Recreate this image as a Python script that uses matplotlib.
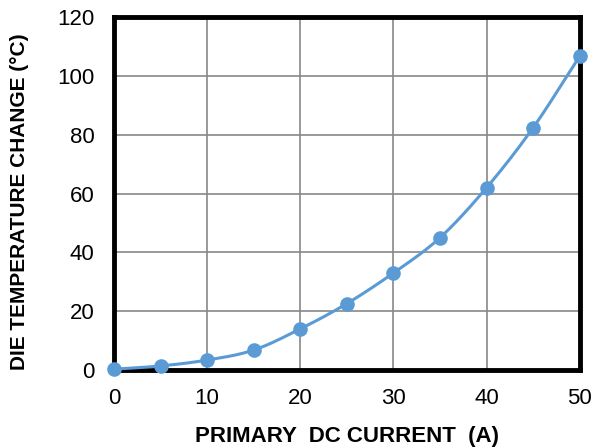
import numpy as np
import matplotlib
matplotlib.use("Agg")
import matplotlib.pyplot as plt

current = [0, 5, 10, 15, 20, 25, 30, 35, 40, 45, 50]
temp_change = [0.3, 1.4, 3.4, 6.8, 14.0, 22.6, 33.0, 45.0, 62.0, 82.4, 106.7]
x_ticks = [0, 10, 20, 30, 40, 50]
y_ticks = [0, 20, 40, 60, 80, 100, 120]

plt.rcParams['font.family'] = ['Liberation Sans', 'DejaVu Sans']

def smooth(xs, ys, n=20):
    xs = np.asarray(xs, float); ys = np.asarray(ys, float)
    px = np.concatenate([[2*xs[0]-xs[1]], xs, [2*xs[-1]-xs[-2]]])
    py = np.concatenate([[2*ys[0]-ys[1]], ys, [2*ys[-1]-ys[-2]]])
    ox, oy = [], []
    for i in range(1, len(px)-2):
        t = np.linspace(0, 1, n, endpoint=False)
        for arr, out in ((px, ox), (py, oy)):
            p0, p1, p2, p3 = arr[i-1], arr[i], arr[i+1], arr[i+2]
            out.extend(0.5*((2*p1) + (-p0+p2)*t + (2*p0-5*p1+4*p2-p3)*t**2 + (-p0+3*p1-3*p2+p3)*t**3))
    ox.append(xs[-1]); oy.append(ys[-1])
    return np.array(ox), np.array(oy)

fig = plt.figure(figsize=(5.94, 4.48), dpi=100)
ax = fig.add_axes([0.192, 0.174, 0.784, 0.788])
sx, sy = smooth(current, temp_change)
color = '#5B9BD5'
ax.plot(sx, sy, color=color, lw=2.2, zorder=3, clip_on=False)
ax.plot(current, temp_change, 'o', color=color, ms=9.5, zorder=4, clip_on=False)
ax.set_xlim(0, 50)
ax.set_ylim(0, 120)
ax.set_xticks(x_ticks)
ax.set_yticks(y_ticks)
ax.grid(True, color='#888888', lw=1.2)
ax.set_axisbelow(True)
for s in ax.spines.values():
    s.set_linewidth(3.5)
    s.set_color('black')
ax.tick_params(axis='both', length=0, labelsize=16)
ax.tick_params(axis='y', pad=14)
ax.tick_params(axis='x', pad=13)
ax.set_xlabel('PRIMARY  DC CURRENT  (A)', fontsize=16, fontweight='bold', labelpad=12)
ax.set_ylabel('DIE TEMPERATURE CHANGE (°C)', fontsize=15, fontweight='bold')
ax.yaxis.set_label_coords(-0.182, 0.476)
fig.savefig('out.png', dpi=100)
